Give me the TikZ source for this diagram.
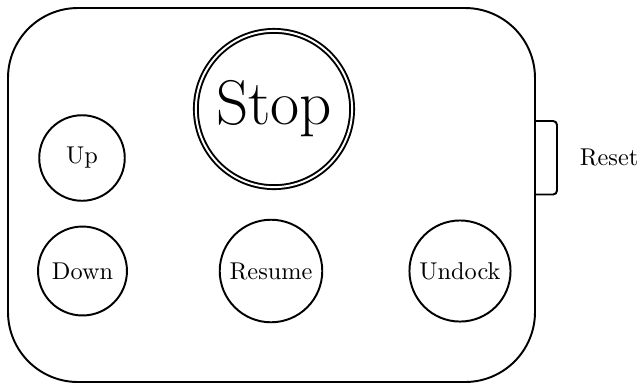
\documentclass[tikz,border=0pt]{standalone}
\begin{document}
\begin{tikzpicture}[x=0.4115pt,y=-0.4115pt,
  btn/.style={draw,circle,thick,inner sep=0pt},
  frame/.style={draw,thick}]
\useasboundingbox (0,0) rectangle (641,384);
\draw[frame, rounded corners=28.8pt] (8,8) rectangle (535,382);
\node[btn, double, double distance=0.8pt, minimum size=64.3pt, font=\fontsize{26}{30}\selectfont] (stop) at (274,109) {Stop};
\node[btn, minimum size=35.2pt] (up) at (82,158) {Up};
\node[btn, minimum size=36.6pt] (down) at (82.5,271) {Down};
\node[btn, minimum size=42.2pt] (resume) at (271,271) {Resume};
\node[btn, minimum size=41.6pt] (undock) at (460,271) {Undock};
\coordinate (t1) at (535,121);
\coordinate (t2) at (557,121);
\coordinate (t3) at (557,194.5);
\coordinate (t4) at (535,194.5);
\draw[frame, rounded corners=1.6pt] (t1) -- (t2) -- (t3) -- (t4);
\node (reset) at (609,157) {Reset};
\end{tikzpicture}
\end{document}
